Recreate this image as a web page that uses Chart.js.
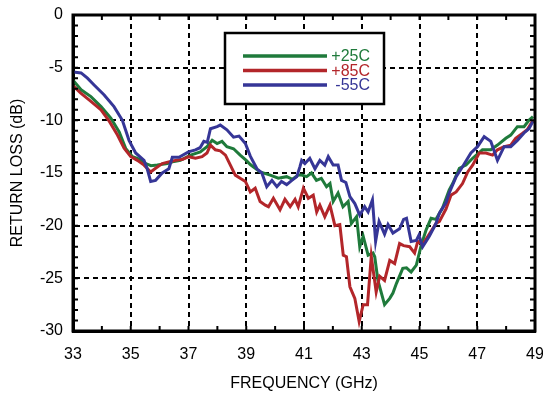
<!DOCTYPE html>
<html>
<head>
<meta charset="utf-8">
<title>Return loss vs frequency</title>
<script src="https://cdn.jsdelivr.net/npm/chart.js@4.4.1/dist/chart.umd.min.js"></script>
<style>
  html, body { margin: 0; padding: 0; background: #fff; }
  canvas { display: block; }
</style>
</head>
<body>
<canvas id="rl" width="543" height="396"></canvas>
<script>
// Measured return loss, three temperatures
const labels = ['+25C', '+85C', '-55C'];
const colors = ['#1f7a3b', '#b3262a', '#363697'];

const freq25 = [33.0, 33.28, 33.62, 33.97, 34.31, 34.6, 34.83, 35.06, 35.23, 35.52, 35.7, 35.92, 36.27, 36.5, 36.72,
  37.07, 37.41, 37.64, 37.82, 37.99, 38.16, 38.33, 38.56, 38.79, 39.0, 39.14, 39.48, 39.83, 40.11, 40.4, 40.6, 40.8,
  40.92, 41.09, 41.26, 41.43, 41.6, 41.78, 41.9, 42.01, 42.18, 42.35, 42.53, 42.64, 42.82, 42.93, 43.05, 43.22, 43.39,
  43.45, 43.56, 43.79, 43.97, 44.08, 44.2, 44.42, 44.55, 44.71, 44.89, 45.06, 45.23, 45.4, 45.57, 45.8, 46.03, 46.15,
  46.38, 46.61, 46.84, 47.18, 47.47, 47.7, 47.99, 48.16, 48.39, 48.62, 48.79, 48.93];
const loss25 = [-6.2, -7.1, -7.75, -8.7, -9.8, -11.1, -12.7, -13.45, -13.6, -14.1, -14.3, -14.25, -14.1, -13.9, -13.8,
  -13.3, -13.0, -12.5, -11.9, -12.2, -12.0, -12.5, -12.7, -13.3, -13.8, -14.2, -14.9, -15.2, -15.5, -15.35, -15.6, -15.2,
  -15.2, -15.35, -15.0, -15.7, -15.5, -16.3, -16.0, -17.7, -16.9, -18.2, -17.7, -19.8, -19.15, -22.0, -21.0, -22.8, -22.6,
  -22.95, -25.2, -27.5, -26.9, -26.4, -25.5, -24.05, -24.0, -24.4, -23.75, -21.85, -20.4, -19.3, -19.4, -18.3, -16.6, -16.0,
  -14.55, -14.25, -13.6, -12.8, -12.8, -12.35, -11.7, -11.4, -10.6, -10.6, -10.0, -9.65];

const freq85 = [33.0, 33.28, 33.62, 33.97, 34.26, 34.54, 34.77, 35.0, 35.23, 35.46, 35.69, 35.86, 36.09, 36.38, 36.55,
  36.8, 37.01, 37.24, 37.47, 37.64, 37.76, 37.93, 38.1, 38.28, 38.45, 38.62, 38.79, 38.97, 39.14, 39.31, 39.48, 39.66,
  39.77, 39.94, 40.17, 40.34, 40.52, 40.69, 40.8, 40.98, 41.15, 41.32, 41.44, 41.55, 41.72, 41.9, 42.07, 42.24, 42.36,
  42.47, 42.59, 42.76, 42.91, 43.05, 43.2, 43.33, 43.5, 43.62, 43.79, 43.97, 44.14, 44.31, 44.45, 44.66, 44.83, 44.94,
  45.11, 45.34, 45.57, 45.69, 45.92, 46.09, 46.27, 46.49, 46.67, 46.84, 47.07, 47.3, 47.53, 47.7, 47.93, 48.16, 48.33,
  48.56, 48.73, 48.93];
const loss85 = [-6.7, -7.45, -8.2, -9.0, -10.1, -11.4, -12.65, -13.45, -13.8, -14.25, -14.9, -14.55, -14.1, -13.9, -13.8,
  -13.7, -13.45, -13.6, -13.45, -13.1, -12.35, -12.8, -12.9, -13.3, -14.25, -15.2, -15.5, -15.8, -16.8, -16.45, -17.7, -18.05,
  -18.2, -17.4, -18.5, -17.5, -18.2, -17.5, -18.2, -16.45, -17.4, -17.1, -18.7, -18.05, -19.15, -18.05, -20.0, -19.9, -22.8,
  -22.95, -25.8, -26.9, -29.1, -27.5, -27.5, -22.9, -26.3, -24.8, -25.2, -23.3, -23.6, -21.7, -21.9, -22.0, -22.6, -21.5,
  -21.8, -20.8, -19.8, -19.6, -18.4, -17.1, -16.8, -16.0, -14.9, -14.25, -13.1, -13.1, -13.3, -12.8, -12.5, -12.35, -11.7,
  -11.25, -10.9, -10.0];

const freqM55 = [33.0, 33.28, 33.5, 33.73, 34.08, 34.42, 34.71, 34.94, 35.17, 35.46, 35.57, 35.69, 35.86, 36.09, 36.32,
  36.44, 36.67, 37.0, 37.24, 37.4, 37.53, 37.65, 37.76, 37.99, 38.1, 38.33, 38.56, 38.75, 38.97, 39.14, 39.37, 39.54,
  39.71, 39.89, 40.06, 40.22, 40.4, 40.58, 40.75, 40.86, 40.92, 41.03, 41.2, 41.38, 41.55, 41.72, 41.84, 42.01, 42.18,
  42.3, 42.45, 42.59, 42.76, 42.93, 43.1, 43.22, 43.37, 43.48, 43.6, 43.79, 43.91, 44.08, 44.31, 44.45, 44.55, 44.71,
  44.89, 44.98, 45.11, 45.34, 45.57, 45.69, 45.92, 46.03, 46.27, 46.49, 46.78, 47.01, 47.24, 47.47, 47.7, 47.93, 48.16,
  48.39, 48.62, 48.79, 48.93];
const lossM55 = [-5.4, -5.5, -6.0, -6.65, -7.6, -8.7, -10.0, -11.9, -13.1, -13.8, -14.6, -15.8, -15.7, -15.0, -14.6,
  -13.5, -13.5, -13.0, -12.8, -12.6, -12.0, -12.1, -10.8, -10.6, -10.45, -10.9, -11.6, -11.5, -12.2, -13.4, -14.6, -15.0,
  -16.3, -15.7, -16.3, -15.8, -16.1, -15.7, -15.35, -14.4, -13.8, -14.1, -13.6, -14.6, -13.8, -14.25, -13.45, -14.25, -14.25,
  -15.7, -15.9, -17.25, -17.9, -19.0, -18.2, -18.7, -17.55, -21.5, -19.6, -20.8, -19.9, -20.7, -20.3, -19.4, -19.3, -21.5,
  -21.4, -20.9, -22.0, -21.0, -19.8, -18.8, -17.8, -16.9, -15.35, -14.4, -13.1, -12.5, -11.55, -12.0, -13.8, -12.5, -12.5,
  -11.9, -11.2, -10.8, -10.1];

const xRange = [33, 49];
const yRange = [-30, 0];

const toPoints = (xs, ys) => xs.map((x, i) => ({ x: x, y: ys[i] }));

const seriesData = [toPoints(freq25, loss25), toPoints(freq85, loss85), toPoints(freqM55, lossM55)];

const FONT = '"Liberation Sans", Arial, Helvetica, sans-serif';

// frame, inward minor ticks and the boxed legend
const extras = {
  id: 'extras',
  afterDraw(chart) {
    const ctx = chart.ctx;
    const a = chart.chartArea;
    const xs = chart.scales.x, ys = chart.scales.y;
    ctx.save();
    ctx.strokeStyle = '#000';
    ctx.lineWidth = 2;
    for (let f = xRange[0] + 1; f < xRange[1]; f++) {
      const px = xs.getPixelForValue(f);
      ctx.beginPath();
      ctx.moveTo(px, a.top); ctx.lineTo(px, a.top + 5);
      ctx.moveTo(px, a.bottom); ctx.lineTo(px, a.bottom - 5);
      ctx.stroke();
    }
    for (let v = yRange[0] + 1; v < yRange[1]; v++) {
      const py = ys.getPixelForValue(v);
      ctx.beginPath();
      ctx.moveTo(a.left, py); ctx.lineTo(a.left + 5, py);
      ctx.moveTo(a.right, py); ctx.lineTo(a.right - 5, py);
      ctx.stroke();
    }
    ctx.lineWidth = 3;
    ctx.strokeRect(a.left, a.top, a.right - a.left, a.bottom - a.top);

    // legend
    const bx = 225, by = 33, bw = 159, bh = 71;
    ctx.fillStyle = '#fff';
    ctx.fillRect(bx, by, bw, bh);
    ctx.lineWidth = 2.5;
    ctx.strokeRect(bx, by, bw, bh);
    ctx.font = '16px ' + FONT;
    ctx.textAlign = 'right';
    ctx.textBaseline = 'middle';
    chart.data.datasets.forEach((ds, i) => {
      const y = 56 + i * 14.5;
      ctx.strokeStyle = ds.borderColor;
      ctx.lineWidth = 3.5;
      ctx.beginPath();
      ctx.moveTo(243, y); ctx.lineTo(327, y);
      ctx.stroke();
      ctx.fillStyle = ds.borderColor;
      ctx.fillText(ds.label, 370, y + 1);
    });
    ctx.restore();
  }
};

const fixAxis = (size) => (scale) => {
  if (scale.isHorizontal()) scale.height = size; else scale.width = size;
  scale.paddingLeft = scale.paddingRight = scale.paddingTop = scale.paddingBottom = 0;
};

new Chart(document.getElementById('rl'), {
  type: 'line',
  data: {
    datasets: seriesData.map((pts, i) => ({
      label: labels[i],
      data: pts,
      borderColor: colors[i],
      backgroundColor: colors[i],
      borderWidth: 3,
      pointRadius: 0,
      tension: 0,
      order: 3 - i
    }))
  },
  options: {
    responsive: false,
    animation: false,
    devicePixelRatio: 1,
    layout: { padding: { left: 0, top: 15, right: 8, bottom: 0 } },
    plugins: { legend: { display: false }, tooltip: { enabled: false } },
    scales: {
      x: {
        type: 'linear',
        min: xRange[0], max: xRange[1],
        afterFit: fixAxis(65),
        ticks: { stepSize: 2, padding: 14, color: '#000', font: { family: FONT, size: 16 } },
        grid: { color: '#000', lineWidth: 2, drawTicks: false },
        border: { display: true, color: '#000', width: 3, dash: [5, 4] },
        title: { display: true, text: 'FREQUENCY (GHz)', color: '#000', font: { family: FONT, size: 16 }, padding: { top: 0, bottom: 3 } }
      },
      y: {
        min: yRange[0], max: yRange[1],
        afterFit: fixAxis(73),
        ticks: { stepSize: 5, padding: 10, color: '#000', font: { family: FONT, size: 16 } },
        grid: { color: '#000', lineWidth: 2, drawTicks: false },
        border: { display: true, color: '#000', width: 3, dash: [5, 4] },
        title: { display: true, text: 'RETURN LOSS (dB)', color: '#000', font: { family: FONT, size: 16 }, padding: { top: 8, bottom: 0 } }
      }
    }
  },
  plugins: [extras]
});
</script>
</body>
</html>
